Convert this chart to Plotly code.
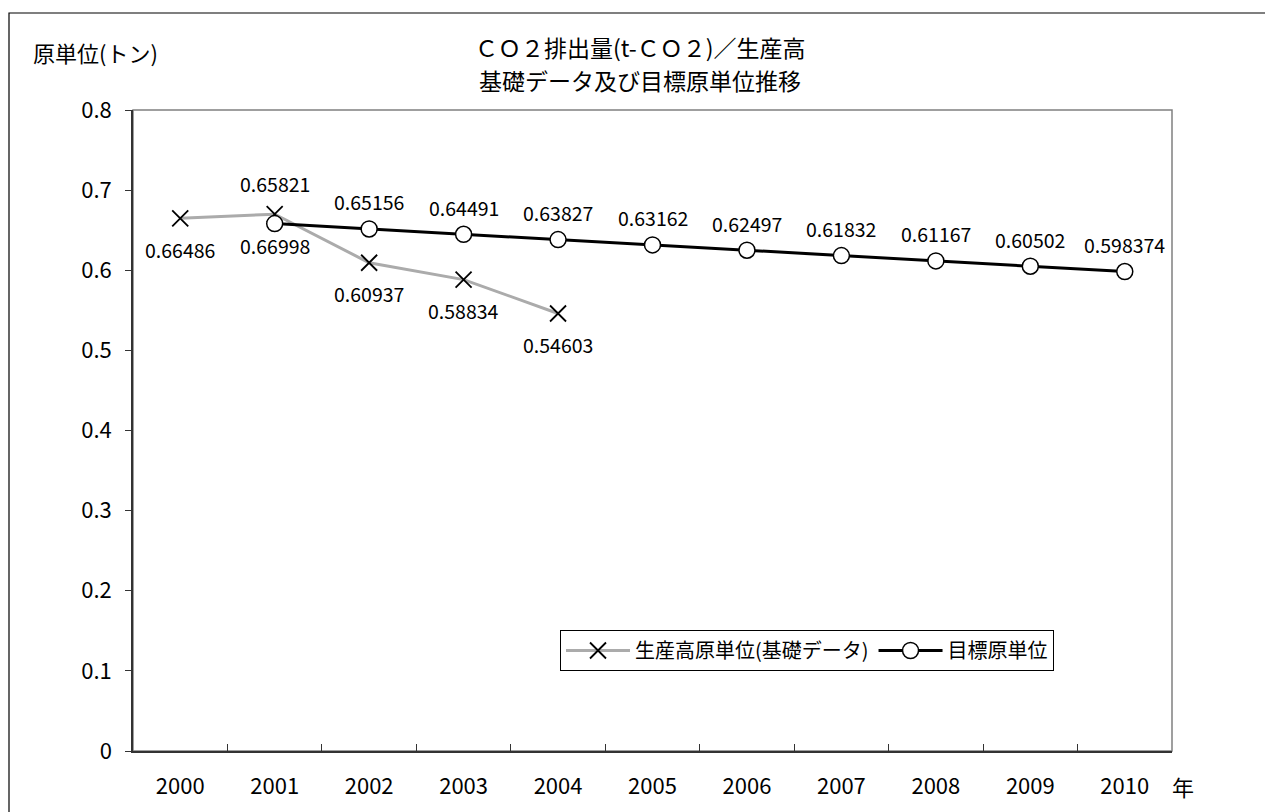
import plotly.graph_objects as go

years = ["2000", "2001", "2002", "2003", "2004", "2005", "2006", "2007", "2008", "2009", "2010"]

base_years = ["2000", "2001", "2002", "2003", "2004"]
base_values = [0.66486, 0.66998, 0.60937, 0.58834, 0.54603]
base_labels = ["0.66486", "0.66998", "0.60937", "0.58834", "0.54603"]

target_years = ["2001", "2002", "2003", "2004", "2005", "2006", "2007", "2008", "2009", "2010"]
target_values = [0.65821, 0.65156, 0.64491, 0.63827, 0.63162, 0.62497, 0.61832, 0.61167, 0.60502, 0.598374]
target_labels = ["0.65821", "0.65156", "0.64491", "0.63827", "0.63162", "0.62497",
                 "0.61832", "0.61167", "0.60502", "0.598374"]

y_ticks = [0, 0.1, 0.2, 0.3, 0.4, 0.5, 0.6, 0.7, 0.8]
y_ticktext = ["0", "0.1", "0.2", "0.3", "0.4", "0.5", "0.6", "0.7", "0.8"]

title_lines = ["ＣＯ２排出量(t-ＣＯ２)／生産高", "基礎データ及び目標原単位推移"]

FONT = "Noto Sans CJK JP"

# figure is placed at (8, 8) in the page by the body margin
W, H = 1265, 804
L, R, T, B = 125, 101, 102, 61
PW = W - L - R
PH = H - T - B


def px(xs):
    return (xs - 8 - L) / PW


def py(ys):
    return (H - B - (ys - 8)) / PH


fig = go.Figure()

fig.add_trace(go.Scatter(
    x=base_years, y=base_values, mode="lines+markers",
    name="生産高原単位(基礎データ)",
    line=dict(color="#ababab", width=3),
    marker=dict(symbol="x-thin", size=16, color="black",
                line=dict(color="black", width=1.8)),
))

fig.add_trace(go.Scatter(
    x=target_years, y=target_values, mode="lines+markers",
    name="目標原単位",
    line=dict(color="black", width=3),
    marker=dict(symbol="circle", size=16, color="white",
                line=dict(color="black", width=1.5)),
))

annotations = []
for x, y, t in zip(base_years, base_values, base_labels):
    annotations.append(dict(x=years.index(x), y=y, text=t, showarrow=False, yshift=-31,
                            xanchor="center", yanchor="middle",
                            font=dict(family=FONT, size=19.5, color="black")))
for i, (x, y, t) in enumerate(zip(target_years, target_values, target_labels)):
    annotations.append(dict(x=years.index(x), y=y, text=t, showarrow=False,
                            yshift=40 if i == 0 else 27,
                            xanchor="center", yanchor="middle",
                            font=dict(family=FONT, size=19.5, color="black")))

# Title (two lines) and axis captions
for line_text, line_y in zip(title_lines, [47, 80]):
    annotations.append(dict(xref="paper", yref="paper", x=px(640), y=py(line_y),
                            text=line_text, showarrow=False, borderpad=0,
                            xanchor="center", yanchor="middle",
                            font=dict(family=FONT, size=23, color="black")))
annotations.append(dict(xref="paper", yref="paper", x=px(31), y=py(52),
                        text="原単位(トン)", showarrow=False,
                        xanchor="left", yanchor="middle",
                        font=dict(family=FONT, size=22, color="black")))
annotations.append(dict(xref="paper", yref="paper", x=px(1183), y=py(786),
                        text="年", showarrow=False,
                        xanchor="center", yanchor="middle",
                        font=dict(family=FONT, size=22, color="black")))

shapes = [
    # outer chart border
    dict(type="rect", xref="paper", yref="paper",
         x0=px(9), x1=px(1268), y0=py(830), y1=py(13),
         line=dict(color="black", width=1.2), fillcolor="rgba(0,0,0,0)", layer="below"),
    # plot area border
    dict(type="rect", xref="paper", yref="paper", x0=0, x1=1, y0=0, y1=1,
         line=dict(color="#808080", width=1.5), fillcolor="rgba(0,0,0,0)", layer="below"),
]

fig.update_layout(
    width=W, height=H,
    margin=dict(l=L, r=R, t=T, b=B),
    paper_bgcolor="white", plot_bgcolor="white",
    font=dict(family=FONT, color="black"),
    showlegend=True,
    legend=dict(orientation="h", x=px(560), y=py(630),
                xanchor="left", yanchor="top",
                bordercolor="black", borderwidth=1, bgcolor="white",
                font=dict(family=FONT, size=20, color="black"),
                itemwidth=64, tracegroupgap=0),
    xaxis=dict(type="category", categoryorder="array", categoryarray=years,
               range=[-0.5, 10.5], tickson="boundaries",
               ticks="inside", ticklen=7, tickcolor="#333", tickwidth=1.3,
               showline=True, linecolor="#333", linewidth=1.5,
               showgrid=False, zeroline=False,
               tickfont=dict(family=FONT, size=22, color="black"),
               ticklabelstandoff=15, fixedrange=True),
    yaxis=dict(range=[0, 0.8], tickvals=y_ticks, ticktext=y_ticktext,
               ticks="outside", ticklen=6, tickcolor="#333", tickwidth=1.3,
               showline=True, linecolor="#333", linewidth=1.5,
               showgrid=False, zeroline=False,
               tickfont=dict(family=FONT, size=22, color="black"),
               ticklabelstandoff=9, fixedrange=True),
    annotations=annotations,
    shapes=shapes,
)

fig.write_html("out.html")
